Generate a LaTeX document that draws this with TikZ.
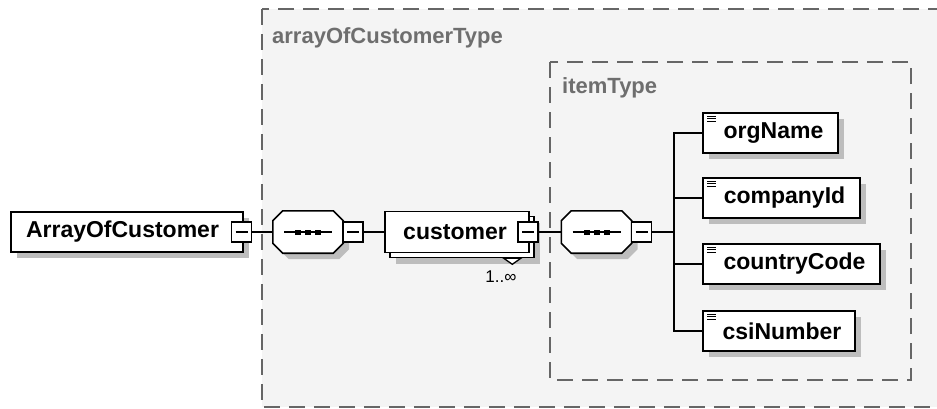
\documentclass[tikz,border=0pt]{standalone}
\usepackage{fontspec}
\setmainfont{Liberation Sans}
\usetikzlibrary{shadows}
\definecolor{bgin}{HTML}{F4F4F4}
\definecolor{shad}{HTML}{BDBDBD}
\definecolor{lbl}{HTML}{6E6E6E}
\definecolor{dashc}{HTML}{666666}
\newcommand\octpath[1]{([xshift=10pt]#1.north west) -- ([xshift=-10pt]#1.north east) -- ([yshift=-10pt]#1.north east) -- ([yshift=10pt]#1.south east) -- ([xshift=-10pt]#1.south east) -- ([xshift=10pt]#1.south west) -- ([yshift=10pt]#1.south west) -- ([yshift=-10pt]#1.north west) -- cycle}
\begin{document}
\begin{tikzpicture}[x=1pt,y=-1pt,
  conn/.style={line width=1.3pt, black},
  dashbox/.style={draw=dashc, line width=1.6pt, dash pattern=on 16pt off 9pt},
  grouplabel/.style={text=lbl, font=\fontsize{22}{22}\selectfont\bfseries, inner sep=0pt, anchor=west},
  namefont/.style={font=\fontsize{23}{23}\selectfont\bfseries},
  elem/.style={namefont, draw=black, line width=1.6pt, fill=white, inner sep=0pt, minimum height=40pt,
    drop shadow={shadow xshift=6pt, shadow yshift=-6pt, fill=shad, opacity=1}},
  leaf/.style={elem, path picture={
    \foreach \k in {0,1,2}{\draw[line width=0.9pt] ([shift={(4pt,{-3pt-2.7pt*\k})}]path picture bounding box.north west) -- ++(9pt,0);}}},
  stack/.style={namefont, draw=black, line width=1.6pt, fill=white, inner sep=0pt, minimum height=41pt,
    drop shadow={shadow xshift=11pt, shadow yshift=-11pt, fill=shad, opacity=1},
    copy shadow={shadow xshift=5pt, shadow yshift=-5pt, line width=1.6pt}},
  minus/.style={draw=black, line width=1.4pt, fill=white, minimum size=20pt, inner sep=0pt,
    path picture={\draw[line width=1.4pt] ([xshift=4pt]path picture bounding box.west) -- ([xshift=-4pt]path picture bounding box.east);}},
  seqnode/.style={minimum width=70pt, minimum height=42pt, inner sep=0pt},
  seqline/.style={draw=black, line width=1.6pt, fill=white},
  mult/.style={font=\fontsize{17}{17}\selectfont, inner sep=0pt},
]
\useasboundingbox (0,0) rectangle (937,408);
\clip (0,0) rectangle (937,408);
\fill[white] (0,0) rectangle (937,408);

% containers
\draw[dashbox, fill=bgin] (262,9) rectangle (980,407);
\node[grouplabel] (outerlbl) at (272,38) {arrayOfCustomerType};
\draw[dashbox, fill=bgin] (550,62) rectangle (911,380);
\node[grouplabel] (innerlbl) at (562,88) {itemType};

% root element
\node[elem, minimum width=232pt] (aoc) at (127,232) {\hspace*{-9pt}ArrayOfCustomer};
\node[minus] (aocm) at (241.5,232) {};

% first sequence
\node[seqnode] (s1) at (308,232) {};
\fill[shad, transform canvas={shift={(6pt,-6pt)}}] \octpath{s1};
\path[seqline] \octpath{s1};
\draw[conn] ([xshift=-24pt]s1.center) -- ([xshift=24pt]s1.center);
\foreach \d in {-10,0,10}{\fill ([shift={(\d pt,0pt)}]s1.center) ++(-3pt,2.5pt) rectangle ++(6pt,-5pt);}
\node[minus] (s1m) at (353,232) {};

% customer
\node[stack, minimum width=144pt] (cust) at (457,232) {\hspace*{-4pt}customer};
\node[minus] (custm) at (528,232) {};
\draw[line width=1.3pt, fill=white] ([shift={(-26pt,-5pt)}]cust.south east) -- ([shift={(-9pt,-5pt)}]cust.south east) -- ([shift={(-17.5pt,-11pt)}]cust.south east) -- cycle;
\node[mult] (card) at (501,277) {1..∞};

% second sequence
\node[seqnode] (s2) at (596.5,232) {};
\fill[shad, transform canvas={shift={(6pt,-6pt)}}] \octpath{s2};
\path[seqline] \octpath{s2};
\draw[conn] ([xshift=-24pt]s2.center) -- ([xshift=24pt]s2.center);
\foreach \d in {-10,0,10}{\fill ([shift={(\d pt,0pt)}]s2.center) ++(-3pt,2.5pt) rectangle ++(6pt,-5pt);}
\node[minus] (s2m) at (641.5,232) {};

% leaf elements
\node[leaf, minimum width=135pt] (org) at (770.5,133) {\hspace*{6pt}orgName};
\node[leaf, minimum width=157pt] (cid) at (781.5,198) {\hspace*{6pt}companyId};
\node[leaf, minimum width=177pt] (cc)  at (791.5,264) {\hspace*{6pt}countryCode};
\node[leaf, minimum width=152pt] (csi) at (779,331) {\hspace*{6pt}csiNumber};

% connectors
\coordinate (tk) at (674,232);
\draw[conn] (aocm.east) -- (s1.west);
\draw[conn] (s1m.east) -- (cust.west);
\draw[conn] (custm.east) -- (s2.west);
\draw[conn] (s2m.east) -- (tk);
\draw[conn] (org.west) -| (tk) |- (csi.west);
\draw[conn] (cid.west -| tk) -- (cid.west);
\draw[conn] (cc.west -| tk) -- (cc.west);
\end{tikzpicture}
\end{document}
